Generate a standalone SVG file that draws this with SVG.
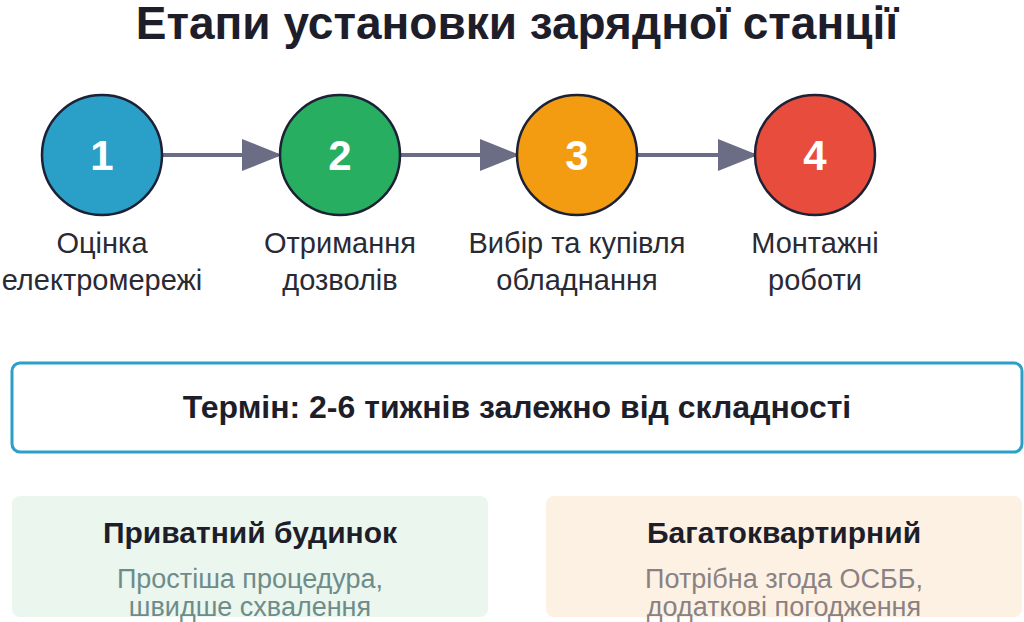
<svg xmlns="http://www.w3.org/2000/svg" width="1024" height="622" viewBox="0 0 1024 622">
<style>
text{font-family:"Liberation Sans",Arial,sans-serif;text-anchor:middle}
.c{stroke:#1c2135;stroke-width:2.5}
.n{fill:#fff;font-size:42px;font-weight:bold}
.l{fill:#2a2a35;font-size:29px}
.e{stroke:#6b6d85;stroke-width:4;fill:none}
.h{fill:#1e1e2a;font-size:30px;font-weight:bold}
.s1{font-size:27px;fill:#6e8c8a}
.s2{font-size:27px;fill:#8a8282}
</style>
<defs><marker id="a" markerWidth="10" markerHeight="8" refX="9" refY="4" orient="auto" markerUnits="strokeWidth"><path d="M0,0L10,4L0,8z" fill="#6b6d85"/></marker></defs>
<rect width="1024" height="622" fill="#fff"/>
<text x="517" y="39" style="font-size:46px;font-weight:bold;fill:#1e1e2a">Етапи установки зарядної станції</text>
<g id="connectors">
<line class="e" x1="162" y1="155" x2="278" y2="155" marker-end="url(#a)"/>
<line class="e" x1="400" y1="155" x2="516" y2="155" marker-end="url(#a)"/>
<line class="e" x1="637" y1="155" x2="754" y2="155" marker-end="url(#a)"/>
</g>
<g id="n1"><circle class="c" cx="102" cy="155" r="60" fill="#2a9fc7"/><text class="n" x="102" y="170">1</text><text class="l" x="102" y="253">Оцінка</text><text class="l" x="102" y="290">електромережі</text></g>
<g id="n2"><circle class="c" cx="340" cy="155" r="60" fill="#27ae60"/><text class="n" x="340" y="170">2</text><text class="l" x="340" y="253">Отримання</text><text class="l" x="340" y="290">дозволів</text></g>
<g id="n3"><circle class="c" cx="577" cy="155" r="60" fill="#f39c12"/><text class="n" x="577" y="170">3</text><text class="l" x="577" y="253">Вибір та купівля</text><text class="l" x="577" y="290">обладнання</text></g>
<g id="n4"><circle class="c" cx="815" cy="155" r="60" fill="#e74c3c"/><text class="n" x="815" y="170">4</text><text class="l" x="815" y="253">Монтажні</text><text class="l" x="815" y="290">роботи</text></g>
<g id="term"><rect x="12" y="363" width="1010" height="89" rx="8" fill="#fff" stroke="#2a9fc7" stroke-width="3"/><text class="h" x="517" y="418" style="font-size:32px">Термін: 2-6 тижнів залежно від складності</text></g>
<g id="private"><rect x="12" y="496" width="476" height="121" rx="8" fill="#eaf6ee"/><text class="h" x="250" y="543">Приватний будинок</text><text class="s1" x="250" y="588">Простіша процедура,</text><text class="s1" x="250" y="616">швидше схвалення</text></g>
<g id="multi"><rect x="546" y="496" width="476" height="121" rx="8" fill="#fdf1e4"/><text class="h" x="784" y="543">Багатоквартирний</text><text class="s2" x="784" y="588">Потрібна згода ОСББ,</text><text class="s2" x="784" y="616">додаткові погодження</text></g>
</svg>
